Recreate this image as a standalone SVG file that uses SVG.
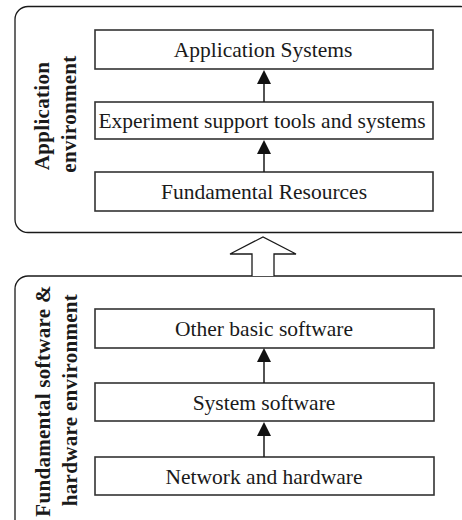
<svg xmlns="http://www.w3.org/2000/svg" width="462" height="520" viewBox="0 0 462 520">
  <defs>
    <style>
      .frame { fill: #fff; stroke: #1a1a1a; stroke-width: 1.3; }
      .box { fill: #fff; stroke: #333; stroke-width: 1.6; }
      .lbl { font-family: "Liberation Serif", "Times New Roman", serif; font-size: 21.5px; fill: #1a1a1a; text-anchor: middle; }
      .side { font-family: "Liberation Serif", "Times New Roman", serif; font-size: 21px; font-weight: bold; fill: #1a1a1a; text-anchor: middle; letter-spacing: 0.3px; }
      .link { stroke: #1a1a1a; stroke-width: 1.5; fill: none; }
      .head { fill: #111; stroke: none; }
    </style>
  </defs>
  <rect width="462" height="520" fill="#fff"/>

  <!-- Application environment layer -->
  <g id="app-env">
    <rect class="frame" x="15" y="6.5" width="459" height="226" rx="13"/>
    <text class="side" transform="translate(49,116) rotate(-90)">Application</text>
    <text class="side" transform="translate(76,114) rotate(-90)">environment</text>
  </g>
  <g id="app-systems">
    <rect class="box" x="95" y="30" width="338" height="39"/>
    <text class="lbl" x="263" y="57">Application Systems</text>
  </g>
  <g id="experiment-tools">
    <rect class="box" x="95" y="102" width="338" height="37"/>
    <text class="lbl" x="262" y="128">Experiment support tools and systems</text>
  </g>
  <g id="fundamental-resources">
    <rect class="box" x="95" y="172" width="338" height="39"/>
    <text class="lbl" x="264" y="199">Fundamental Resources</text>
  </g>

  <!-- Fundamental software & hardware environment layer -->
  <g id="base-env">
    <rect class="frame" x="15" y="276" width="459" height="260" rx="13"/>
    <text class="side" transform="translate(50,401) rotate(-90)">Fundamental software &amp;</text>
    <text class="side" transform="translate(77,400) rotate(-90)">hardware environment</text>
  </g>
  <g id="other-software">
    <rect class="box" x="95" y="309" width="339" height="39"/>
    <text class="lbl" x="264" y="336">Other basic software</text>
  </g>
  <g id="system-software">
    <rect class="box" x="95" y="383" width="339" height="38"/>
    <text class="lbl" x="264" y="410">System software</text>
  </g>
  <g id="network-hardware">
    <rect class="box" x="95" y="457" width="339" height="38"/>
    <text class="lbl" x="264" y="484">Network and hardware</text>
  </g>

  <!-- connectors -->
  <g id="connectors">
    <line class="link" x1="264" y1="102" x2="264" y2="84"/>
    <polygon class="head" points="264,70 257,84 271,84"/>
    <line class="link" x1="264" y1="172" x2="264" y2="154"/>
    <polygon class="head" points="264,140 257,154 271,154"/>
    <line class="link" x1="264" y1="383" x2="264" y2="362"/>
    <polygon class="head" points="264,348 257,362 271,362"/>
    <line class="link" x1="264" y1="457" x2="264" y2="436"/>
    <polygon class="head" points="264,422 257,436 271,436"/>
    <!-- hollow block arrow between the two layers -->
    <path d="M252,276 V254 H230 L263,237 L296,254 H274 V276" fill="#fff" stroke="#1a1a1a" stroke-width="1.3"/>
  </g>
</svg>
